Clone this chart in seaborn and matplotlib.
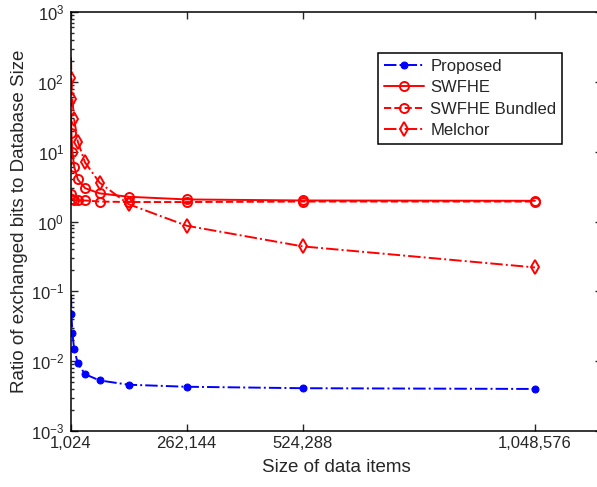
import seaborn as sns
import matplotlib
matplotlib.use('Agg')
import matplotlib.pyplot as plt
import numpy as np
import pandas

# data
sizes = [1024, 2048, 4096, 8192, 16384, 32768, 65536, 131072, 262144, 524288, 1048576]
proposed = [0.09, 0.047, 0.0255, 0.0147, 0.0093, 0.0065, 0.0053, 0.0046, 0.0043, 0.0041, 0.0040]
swfhe = [34.0, 18.3, 10.0, 6.1, 4.0, 3.0, 2.53, 2.26, 2.07, 2.0, 1.98]
swfhe_bundled = [3.0, 2.45, 2.1, 2.03, 2.0, 2.0, 1.93, 1.9, 1.9, 1.93, 1.93]
melchor = [224.0, 112.0, 56.0, 29.0, 13.9, 7.0, 3.6, 1.77, 0.87, 0.44, 0.22]
tick_pos = [1024, 262144, 524288, 1048576]
tick_labels = ['1,024', '262,144', '524,288', '1,048,576']

sns.set_style('ticks')
plt.rcParams['font.family'] = ['Liberation Sans', 'DejaVu Sans']
plt.rcParams['mathtext.fontset'] = 'custom'
plt.rcParams['mathtext.rm'] = 'Liberation Sans'
plt.rcParams['mathtext.it'] = 'Liberation Sans:italic'

df = pandas.DataFrame({'size': sizes, 'Proposed': proposed, 'SWFHE': swfhe,
                       'SWFHE Bundled': swfhe_bundled, 'Melchor': melchor})

fig = plt.figure(figsize=(5.97, 4.87), dpi=100)
ax = fig.add_axes([71/597, 56/487, 531/597, 419/487])

skip = slice(1, None)  # first point's marker sits outside the box in the original
sns.lineplot(data=df, x='size', y='Proposed', ax=ax, color='blue', linestyle='-.', lw=1.4,
             marker='o', markersize=5, markerfacecolor='blue', markeredgecolor='blue',
             markevery=skip, label='Proposed')
sns.lineplot(data=df, x='size', y='SWFHE', ax=ax, color='red', linestyle='-', lw=1.4,
             marker='o', markersize=6.5, markerfacecolor='none', markeredgecolor='red',
             markeredgewidth=1.4, markevery=skip, label='SWFHE')
sns.lineplot(data=df, x='size', y='SWFHE Bundled', ax=ax, color='red', linestyle='--', lw=1.4,
             marker='o', markersize=6.5, markerfacecolor='none', markeredgecolor='red',
             markeredgewidth=1.4, markevery=skip, label='SWFHE Bundled')
sns.lineplot(data=df, x='size', y='Melchor', ax=ax, color='red', linestyle='-.', lw=1.4,
             marker='d', markersize=7, markerfacecolor='none', markeredgecolor='red',
             markeredgewidth=1.4, markevery=skip, label='Melchor')

ax.set_yscale('log')
ax.set_ylim(1e-3, 1e3)
ax.set_xlim(1024, 1.2e6)
ax.set_xticks(tick_pos)
ax.set_xticklabels(tick_labels)
ax.tick_params(which='both', direction='in', top=True, right=True, labelsize=12, width=1)
ax.tick_params(which='major', length=5)
ax.tick_params(which='minor', length=2.5)
ax.tick_params(axis='x', which='minor', bottom=False, top=False)
ax.tick_params(axis='y', pad=5)
for s in ax.spines.values():
    s.set_linewidth(1.1)
    s.set_color('k')

ax.set_xlabel('Size of data items', fontsize=13.5, labelpad=6)
ax.set_ylabel('Ratio of exchanged bits to Database Size', fontsize=13.5, labelpad=2)

leg = ax.legend(loc='upper right', bbox_to_anchor=(0.925, 0.902), fontsize=12,
                frameon=True, fancybox=False, handlelength=2.4, borderpad=0.35,
                labelspacing=0.38, handletextpad=0.4, borderaxespad=0)
leg.get_frame().set_edgecolor('k')
leg.get_frame().set_linewidth(1.1)
leg.get_frame().set_alpha(1)

fig.savefig('out.png', dpi=100)
